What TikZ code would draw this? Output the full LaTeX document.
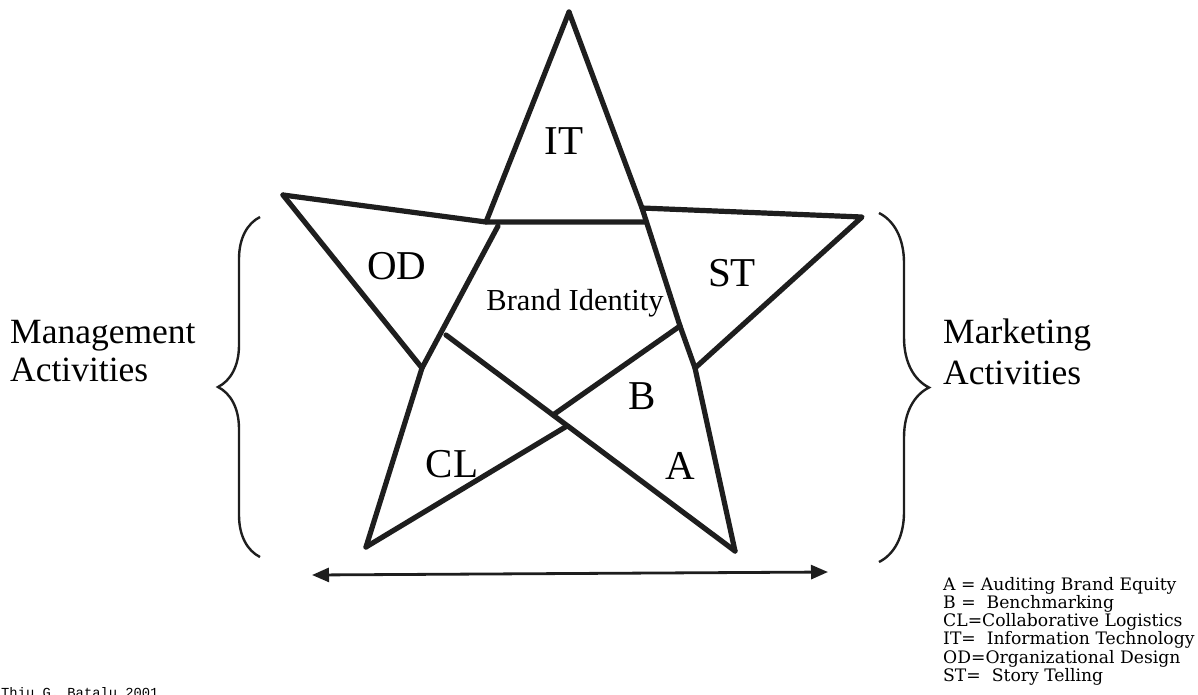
\documentclass[tikz,border=0pt]{standalone}
\usepackage{fontspec}
\setmainfont{Liberation Serif}
\newfontfamily\legendfont{DejaVu Serif}
\newfontfamily\creditfont{Liberation Mono}
\usetikzlibrary{arrows.meta,decorations.pathreplacing}
\definecolor{ink}{RGB}{30,30,30}
\begin{document}
\begin{tikzpicture}[x=1pt,y=-1pt,
  starline/.style={line width=5.2pt, draw=ink, line cap=round, line join=round},
  lbl/.style={font=\fontsize{41}{43}\selectfont, inner sep=0pt, text=black},
  brandlbl/.style={font=\fontsize{30.5}{32}\selectfont, inner sep=0pt, text=black, anchor=base},
  sidelbl/.style={font=\fontsize{35.5}{38}\selectfont, anchor=base west, inner sep=0pt},
  legendline/.style={font=\legendfont\fontsize{17.2}{18}\selectfont, anchor=base west, inner sep=0pt},
  bracestyle/.style={line width=2.4pt, draw=ink, decorate},
  spanarrow/.style={line width=2.8pt, draw=ink, {Triangle[length=17pt,width=14pt]}-{Triangle[length=17pt,width=14pt]}}
]
\useasboundingbox (0,0) rectangle (1198,694);
% star vertices and junctions
\coordinate (T) at (569,12);
\coordinate (LT) at (283,195);
\coordinate (RT) at (862,217);
\coordinate (BL) at (366,547);
\coordinate (BR) at (735,551);
\coordinate (J1) at (486,222);
\coordinate (J2) at (642,208);
\coordinate (J3) at (498,226);
\coordinate (J4) at (646,222);
\coordinate (K1) at (422,368);
\coordinate (K2) at (446,335);
\coordinate (R1) at (680,326);
\coordinate (R2) at (695,368);
\coordinate (P) at (553,415);
\coordinate (Q) at (567,426);
% star lines
\draw[starline] (T) -- (J1);
\draw[starline] (T) -- (J2) -- (R1) -- (R2) -- (BR);
\draw[starline] (LT) -- (J1) -- (J4);
\draw[starline] (J2) -- (RT) -- (R2);
\draw[starline] (LT) -- (K1);
\draw[starline] (J3) -- (K1) -- (BL);
\draw[starline] (K2) -- (BR);
\draw[starline] (R1) -- (P);
\draw[starline] (Q) -- (BL);
% labels
\node[lbl] (it) at (564,141) {IT};
\node[lbl] (od) at (397,266) {OD};
\node[lbl] (st) at (732,273) {ST};
\node[brandlbl] (bi) at (575,310) {Brand Identity};
\node[lbl] (b) at (642,396) {B};
\node[lbl] (cl) at (452,464) {CL};
\node[lbl] (a) at (680,466) {A};
% side labels
\node[sidelbl] (man1) at (10,343) {Management};
\node[sidelbl] (man2) at (10,381) {Activities};
\node[sidelbl] (mar1) at (943,343) {Marketing};
\node[sidelbl] (mar2) at (943,384) {Activities};
% braces
\coordinate (LB1) at (260,557);
\coordinate (LB2) at (260,217);
\coordinate (RB1) at (879,213);
\coordinate (RB2) at (879,562);
\draw[bracestyle, decoration={brace, amplitude=42pt}] (LB1) -- (LB2);
\draw[bracestyle, decoration={brace, amplitude=50pt}] (RB1) -- (RB2);
% arrow
\coordinate (AL) at (312,575);
\coordinate (AR) at (828,572);
\draw[spanarrow] (AL) -- (AR);
% legend
\node[legendline] (lg1) at (943,590) {A = Auditing Brand Equity};
\node[legendline] (lg2) at (943,608.3) {B =\ \ Benchmarking};
\node[legendline] (lg3) at (943,626.6) {CL=Collaborative Logistics};
\node[legendline] (lg4) at (943,644.9) {IT=\ \ Information Technology};
\node[legendline] (lg5) at (943,663.2) {OD=Organizational Design};
\node[legendline] (lg6) at (943,681.5) {ST=\ \ Story Telling};
% credit (cut off at the bottom edge, as in the reference)
\node[font=\creditfont\fontsize{13.8}{14}\selectfont, anchor=base west, inner sep=0pt] (credit) at (1,697) {Thiu G. Batalu 2001};
\end{tikzpicture}
\end{document}
